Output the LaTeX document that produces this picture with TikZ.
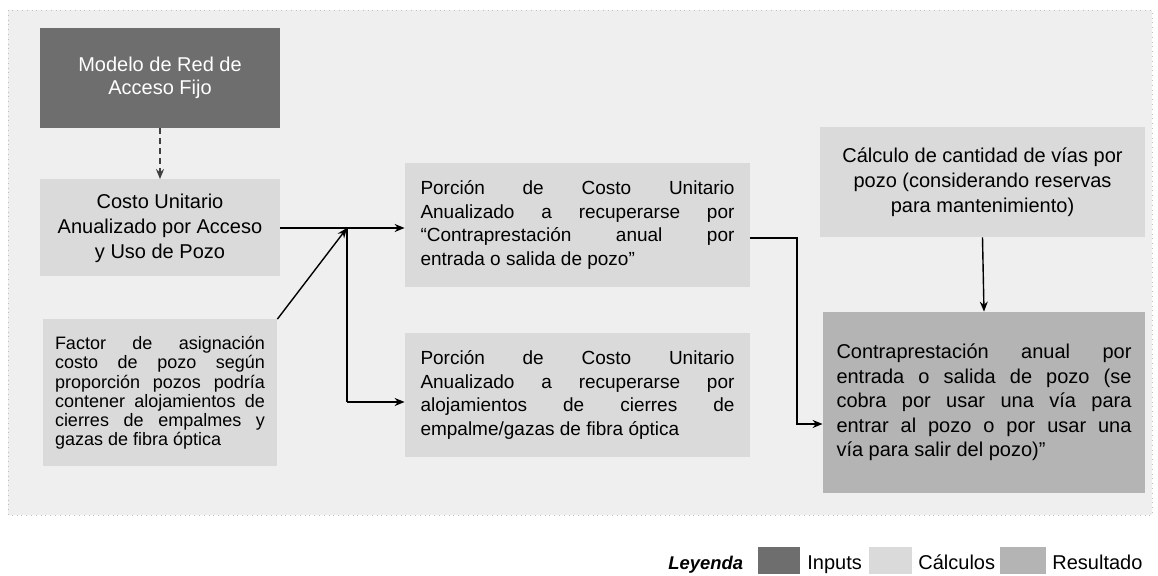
\documentclass[tikz,border=0pt]{standalone}
\usepackage{fontspec}
\setmainfont{Liberation Sans}
\usetikzlibrary{arrows.meta}
\definecolor{inputcol}{HTML}{6E6E6E}
\definecolor{calccol}{HTML}{DADADA}
\definecolor{rescol}{HTML}{B4B4B4}
\definecolor{bgcol}{HTML}{EFEFEF}
\tikzset{
  inputbox/.style={fill=inputcol, text=white, inner sep=0pt, align=center,
    font=\fontsize{10}{11.8}\selectfont},
  calcbox/.style={fill=calccol, inner sep=0pt},
  resbox/.style={fill=rescol, inner sep=0pt},
  ctext/.style={align=center, font=\fontsize{10}{12.5}\selectfont},
  jtext/.style={align=justify},
  conn/.style={line width=0.7pt, draw=black},
  arr/.style={conn, -{Stealth[length=5pt,width=4pt]}},
  dasharr/.style={arr, dashed, dash pattern=on 3pt off 2pt, draw=black!75},
  legtext/.style={font=\fontsize{10}{12}\selectfont, inner sep=0pt, anchor=base west},
  legsq/.style={minimum height=13.5pt, inner sep=0pt, anchor=west},
}
\begin{document}
\begin{tikzpicture}[x=0.5pt, y=-0.5pt]
\useasboundingbox (0,0) rectangle (1158,576);
\fill[bgcol] (8,10) rectangle (1152,515);
\draw[black!25, line width=0.4pt, dotted] (8,10) rectangle (1152,515);

% boxes
\node[inputbox, minimum width=120pt, minimum height=50pt] (modelo) at (160,78)
  {Modelo de Red de\\Acceso Fijo};
\node[calcbox, ctext, minimum width=120pt, minimum height=48.5pt] (costo) at (160,228)
  {Costo Unitario\\Anualizado por Acceso\\y Uso de Pozo};
\node[calcbox, jtext, text width=105pt, inner xsep=6pt, minimum height=73.5pt,
  font=\fontsize{9}{9.6}\selectfont] (factor) at (160,393)
  {Factor de asignación\linebreak costo de pozo según\linebreak proporción pozos podría\linebreak contener alojamientos de\linebreak cierres de empalmes y\linebreak gazas de fibra óptica};
\node[calcbox, jtext, text width=157pt, inner xsep=7.75pt, minimum height=62pt,
  font=\fontsize{9.5}{11.7}\selectfont] (p1) at (577.5,225)
  {Porción de Costo Unitario\linebreak Anualizado a recuperarse por\linebreak “Contraprestación anual por\linebreak entrada o salida de pozo”};
\node[calcbox, jtext, text width=157pt, inner xsep=7.75pt, minimum height=62pt,
  font=\fontsize{9.5}{11.7}\selectfont] (p2) at (577.5,395)
  {Porción de Costo Unitario\linebreak Anualizado a recuperarse por\linebreak alojamientos de cierres de\linebreak empalme/gazas de fibra óptica};
\node[calcbox, ctext, minimum width=162.5pt, minimum height=55pt] (calc) at (982.5,182)
  {Cálculo de cantidad de vías por\\pozo (considerando reservas\\para mantenimiento)};
\node[resbox, jtext, text width=147.5pt, inner xsep=6.75pt, minimum height=90.5pt,
  font=\fontsize{10}{12.3}\selectfont] (contra) at (984,402.5)
  {Contraprestación anual por\linebreak entrada o salida de pozo (se\linebreak cobra por usar una vía para\linebreak entrar al pozo o por usar una\linebreak vía para salir del pozo)”};

% connectors
\draw[dasharr] (modelo.south) -- (costo.north);
\coordinate (j1) at (347,228);
\coordinate (j2) at (347,402);
\draw[conn] (costo.east) -- (j1);
\draw[arr] (j1) -- (j1 -| p1.west);
\draw[conn] (j1) -- (j2);
\draw[arr] (j2) -- (j2 -| p2.west);
\draw[arr] (factor.north east) -- (j1);
\coordinate (k1) at (797,238);
\coordinate (k2) at (797,424);
\draw[arr] (p1.east |- k1) -- (k1) -- (k2) -- (k2 -| contra.west);
\draw[arr] (calc.south) -- (contra.north);

% legend
\node[legtext, font=\fontsize{9.2}{11}\bfseries\itshape\selectfont] (leyenda) at (668,570) {Leyenda};
\node[legsq, fill=inputcol, minimum width=21pt] (sqin) at (758,560.5) {};
\node[legtext] (tin) at (807,570) {Inputs};
\node[legsq, fill=calccol, minimum width=21.5pt] (sqcalc) at (869,560.5) {};
\node[legtext] (tcalc) at (918,570) {Cálculos};
\node[legsq, fill=rescol, minimum width=23pt] (sqres) at (1000,560.5) {};
\node[legtext] (tres) at (1052,570) {Resultado};
\end{tikzpicture}
\end{document}
